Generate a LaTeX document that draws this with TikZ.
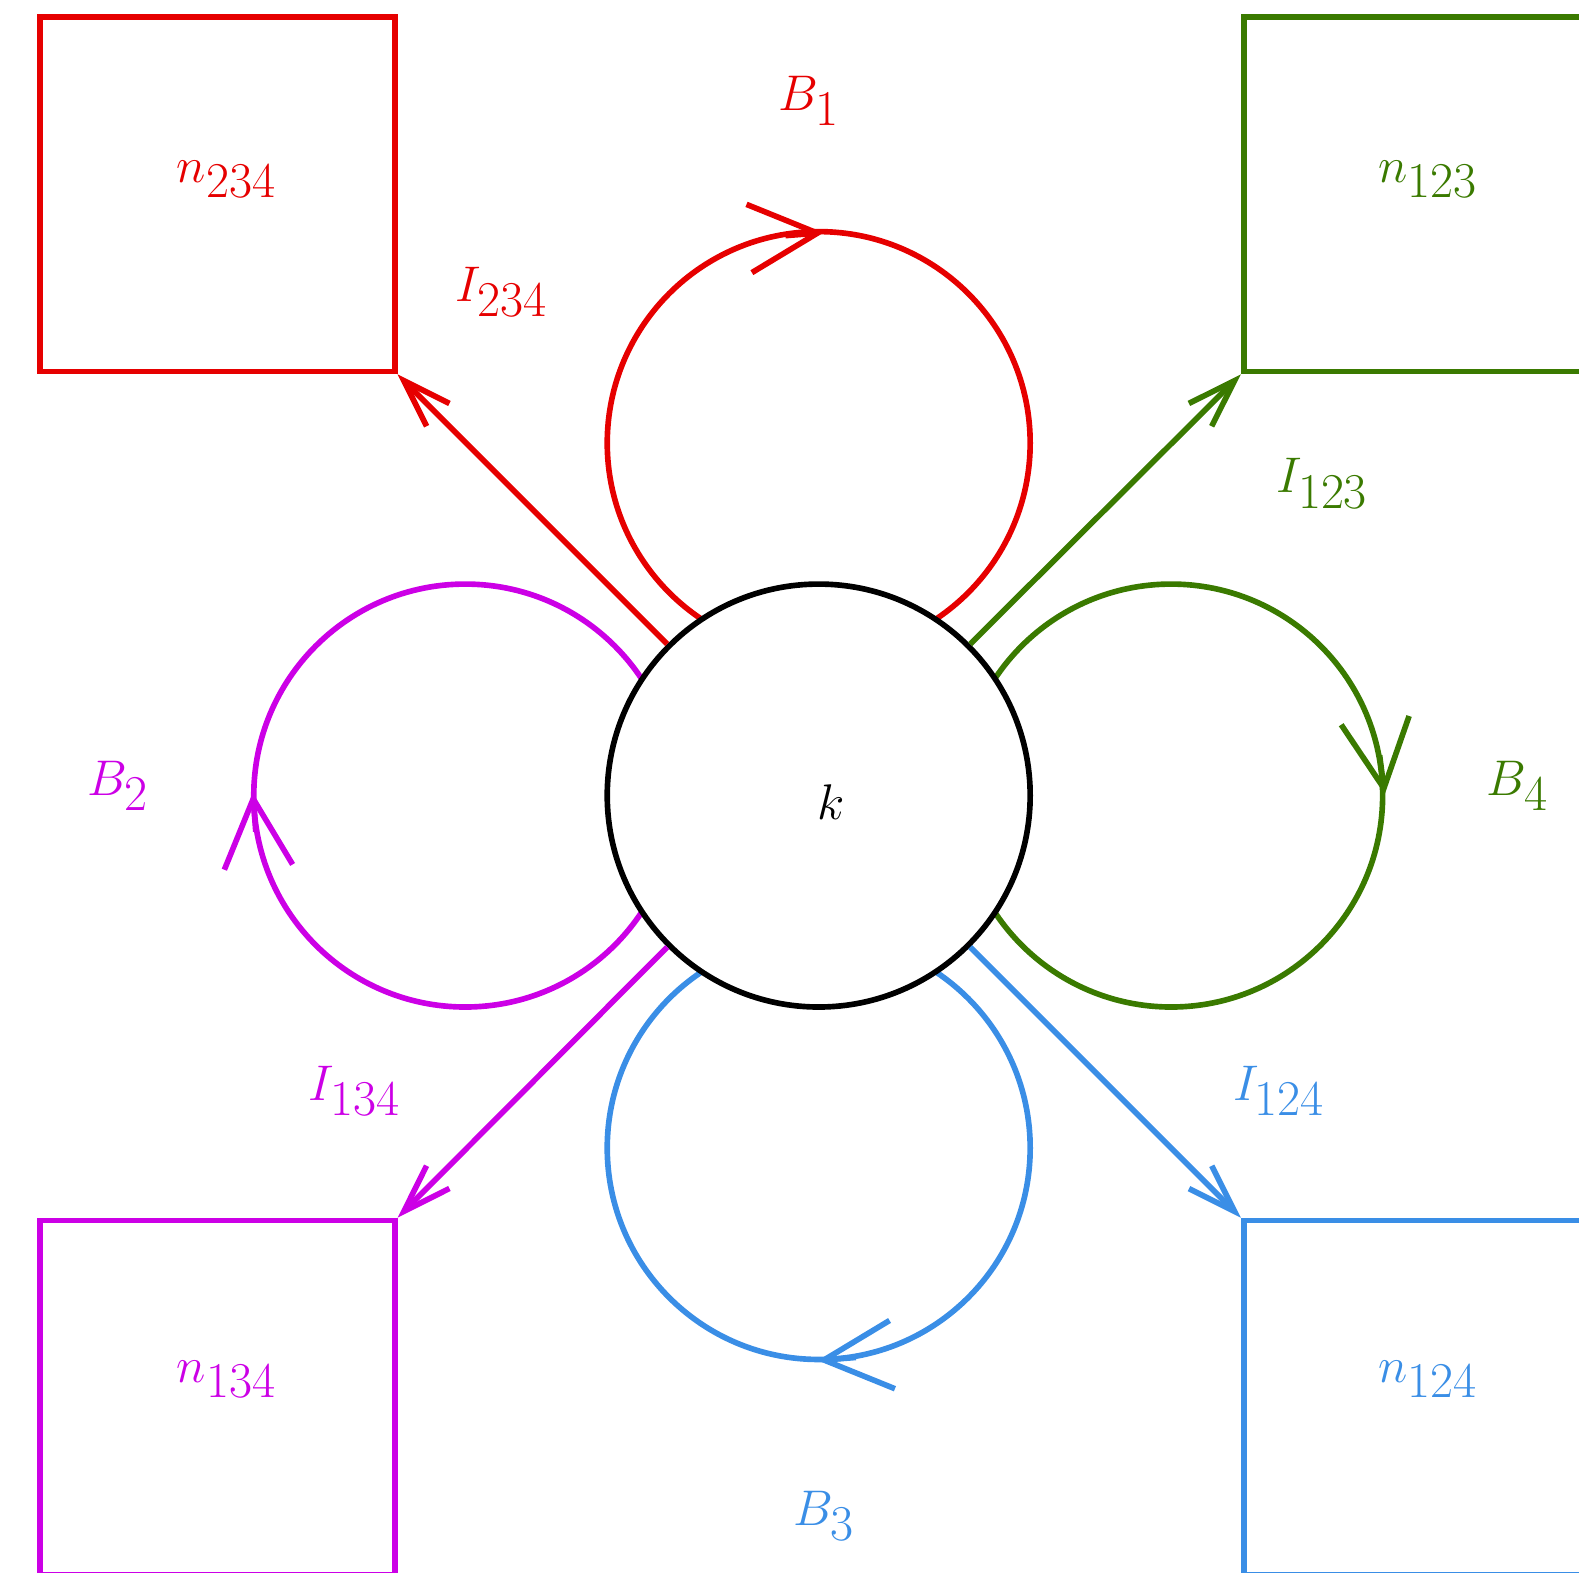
\documentclass[tikz,border=0pt]{standalone}
\usetikzlibrary{arrows.meta}
\definecolor{cred}{RGB}{230,0,0}
\definecolor{cgreen}{RGB}{58,122,0}
\definecolor{cpurple}{RGB}{204,0,230}
\definecolor{cblue}{RGB}{58,142,230}
\begin{document}
\begin{tikzpicture}[x=0.5pt,y=0.5pt,
  lw/.style={line width=2.8pt},
  boxnode/.style={draw,lw,minimum width=176pt,minimum height=176pt,inner sep=0pt},
  lbl/.style={font=\fontsize{33}{39}\selectfont,inner sep=0pt},
  looparrow/.style={lw,-{Straight Barb[length=34pt,width=34pt]}},
  linkarrow/.style={lw,-{Straight Barb[length=24pt,width=16pt]}}]
\useasboundingbox (0,0) rectangle (1568,-1562);
\clip (0,0) rectangle (1568,-1562);
% boxes
\node[boxnode,cred] (b234) at (216,-193) {};
\node[boxnode,cgreen] (b123) at (1411,-193) {};
\node[boxnode,cpurple] (b134) at (216,-1388) {};
\node[boxnode,cblue] (b124) at (1411,-1388) {};
% loops
\draw[lw,cred] (813,-440) circle[radius=210];
\draw[lw,cgreen] (1163,-790) circle[radius=210];
\draw[lw,cblue] (813,-1140) circle[radius=210];
\draw[lw,cpurple] (462,-790) circle[radius=210];
\draw[looparrow,cred] (780,-234) -- (818,-231);
\draw[looparrow,cgreen] (1370,-750) -- (1375,-789);
\draw[looparrow,cblue] (850,-1348) -- (812,-1351);
\draw[looparrow,cpurple] (254,-826) -- (251,-787);
% central node
\node[circle,draw,fill=white,lw,minimum size=210pt,inner sep=0pt] (k) at (813,-790) {};
\node[lbl] (klbl) at (825,-797) {$k$};
% links
\draw[linkarrow,cred] (k.135) -- (b234.south east);
\draw[linkarrow,cgreen] (k.45) -- (b123.south west);
\draw[linkarrow,cpurple] (k.225) -- (b134.north east);
\draw[linkarrow,cblue] (k.315) -- (b124.north west);
% labels
\node[lbl,cred] (lB1) at (803,-100) {$B_1$};
\node[lbl,cred] (lI234) at (498,-290) {$I_{234}$};
\node[lbl,cred] (ln234) at (225,-178) {$n_{234}$};
\node[lbl,cgreen] (ln123) at (1418,-178) {$n_{123}$};
\node[lbl,cgreen] (lI123) at (1313,-480) {$I_{123}$};
\node[lbl,cgreen] (lB4) at (1507,-780) {$B_4$};
\node[lbl,cpurple] (lB2) at (117,-780) {$B_2$};
\node[lbl,cpurple] (lI134) at (352,-1083) {$I_{134}$};
\node[lbl,cpurple] (ln134) at (225,-1370) {$n_{134}$};
\node[lbl,cblue] (ln124) at (1418,-1370) {$n_{124}$};
\node[lbl,cblue] (lI124) at (1270,-1083) {$I_{124}$};
\node[lbl,cblue] (lB3) at (818,-1505) {$B_3$};
\end{tikzpicture}
\end{document}
